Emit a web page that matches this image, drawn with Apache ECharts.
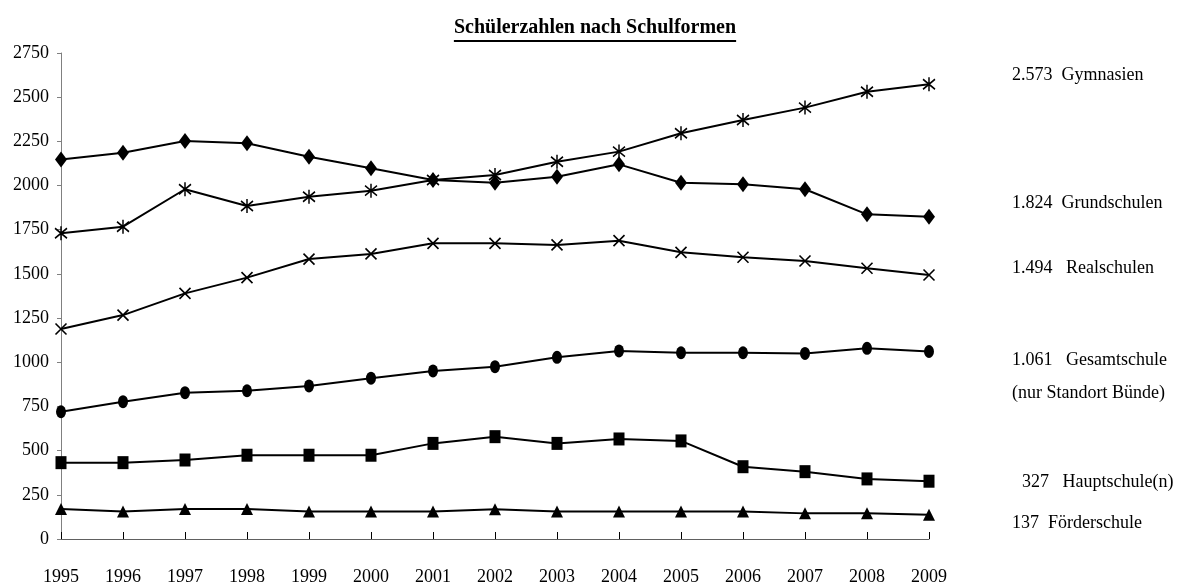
<!DOCTYPE html>
<html>
<head>
<meta charset="utf-8">
<script src="https://cdn.jsdelivr.net/npm/echarts@6/dist/echarts.min.js"></script>
<style>
html,body{margin:0;padding:0;background:#fff;}
#chart{width:1178px;height:586px;}
</style>
</head>
<body>
<div id="chart"></div>
<script>
const years = ['1995','1996','1997','1998','1999','2000','2001','2002','2003','2004','2005','2006','2007','2008','2009'];
const gymnasien    = [1730,1767,1979,1884,1937,1971,2031,2060,2135,2192,2296,2371,2441,2531,2573];
const grundschulen = [2148,2186,2252,2239,2163,2098,2031,2016,2050,2120,2016,2007,1979,1837,1824];
const realschulen  = [1188,1267,1390,1479,1584,1613,1673,1673,1664,1688,1622,1594,1573,1532,1494];
const gesamtschule = [720,777,828,839,866,910,951,975,1028,1064,1054,1054,1050,1079,1061];
const hauptschule  = [432,432,447,474,474,474,541,579,541,566,555,409,381,340,327];
const foerderschule= [170,155,170,170,155,155,155,168,155,155,155,155,145,145,137];
const seriesNames = ['Gymnasien','Grundschulen','Realschulen','Gesamtschule','Hauptschule(n)','Förderschule'];
const rightLabels = ['2.573  Gymnasien','1.824  Grundschulen','1.494   Realschulen','1.061   Gesamtschule','(nur Standort Bünde)','327   Hauptschule(n)','137  Förderschule'];
const titleText = 'Schülerzahlen nach Schulformen';

const FONT = '"Liberation Serif","Times New Roman",serif';
const chart = echarts.init(document.getElementById('chart'));

const asterisk = 'path://M6,0L6,14M0,2L12,12M12,2L0,12';
const cross = 'path://M0,0L12,12M12,0L0,12';

function mk(name, data, symbol, size, isPath) {
  return {
    name: name, type: 'line', data: data,
    symbol: symbol, symbolSize: size,
    lineStyle: {color: '#000', width: 2},
    itemStyle: isPath ? {color: 'rgba(0,0,0,0)', borderColor: '#000', borderWidth: 1.6} : {color: '#000', borderWidth: 0},
    animation: false, z: 3
  };
}

const labelYs = [75, 203, 268, 360, 393, 482, 523];
const labelXs = [1012, 1012, 1012, 1012, 1012, 1022, 1012];

const graphics = rightLabels.map((t, i) => ({
  type: 'text', x: labelXs[i], y: labelYs[i],
  style: {text: t, font: '18px ' + FONT, fill: '#000', textVerticalAlign: 'middle', verticalAlign: 'middle'}
}));

const titleFont = 'bold 20px ' + FONT;
const ctx = document.createElement('canvas').getContext('2d');
ctx.font = titleFont;
const tW = ctx.measureText(titleText).width;
const tCx = 595;
graphics.push({
  type: 'text', x: tCx, y: 28,
  style: {text: titleText, font: titleFont, fill: '#000', align: 'center', textAlign: 'center', verticalAlign: 'middle', textVerticalAlign: 'middle'}
});
graphics.push({
  type: 'line', shape: {x1: tCx - tW / 2, y1: 41, x2: tCx + tW / 2, y2: 41},
  style: {stroke: '#000', lineWidth: 2}
});

chart.setOption({
  animation: false,
  grid: {left: 61, right: 249, top: 53, bottom: 47},
  xAxis: {
    type: 'category', data: years, boundaryGap: false,
    axisLine: {lineStyle: {color: '#606060', width: 1}},
    axisTick: {show: true, inside: true, alignWithLabel: true, length: 7, lineStyle: {color: '#000'}},
    axisLabel: {color: '#000', fontFamily: FONT, fontSize: 18, margin: 29}
  },
  yAxis: {
    type: 'value', min: 0, max: 2750, interval: 250,
    splitLine: {show: false},
    axisLine: {show: true, lineStyle: {color: '#808080', width: 1}},
    axisTick: {show: true, length: 4, lineStyle: {color: '#808080'}},
    axisLabel: {color: '#000', fontFamily: FONT, fontSize: 18, margin: 12, formatter: v => String(v)}
  },
  series: [
    mk(seriesNames[0], gymnasien, asterisk, [12,14], true),
    mk(seriesNames[1], grundschulen, 'diamond', [12,16], false),
    mk(seriesNames[2], realschulen, cross, [11,11], true),
    mk(seriesNames[3], gesamtschule, 'circle', [10,13], false),
    mk(seriesNames[4], hauptschule, 'rect', [11,13], false),
    mk(seriesNames[5], foerderschule, 'triangle', [12,12], false)
  ],
  graphic: graphics
});
</script>
</body>
</html>
